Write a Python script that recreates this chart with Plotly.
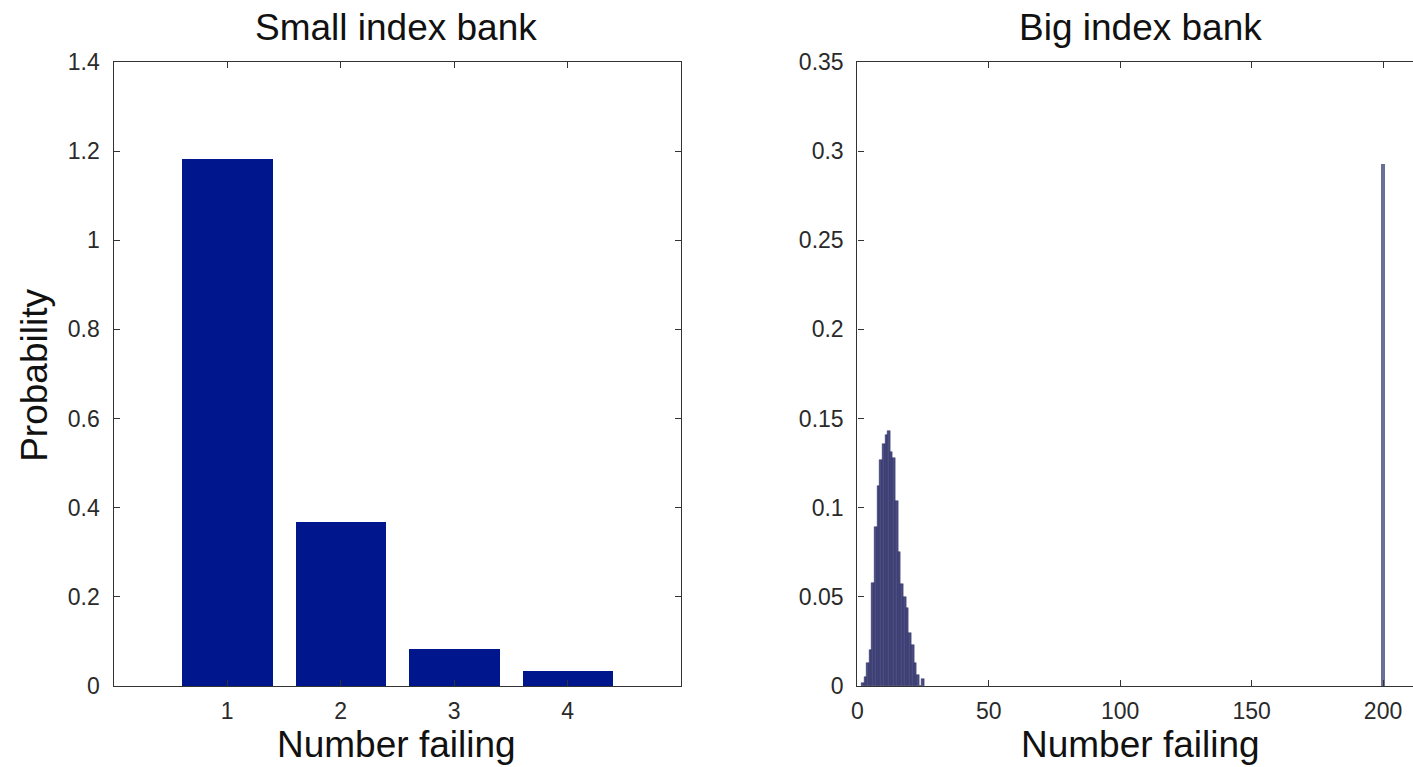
import plotly.graph_objects as go

# ---- data ----
small_x = [1, 2, 3, 4]
small_p = [1.183, 0.368, 0.083, 0.034]

big_x = [2, 3, 4, 5, 6, 7, 8, 9, 10, 11, 12, 13, 14, 15, 16, 17, 18, 19, 20, 21, 22, 23, 24, 25]
big_p = [0.002, 0.005, 0.013, 0.020, 0.058, 0.089, 0.112, 0.127, 0.136, 0.141, 0.143, 0.131,
         0.128, 0.104, 0.075, 0.057, 0.050, 0.044, 0.030, 0.023, 0.013, 0.006, 0.0, 0.004]
spike_x = [200]
spike_p = [0.293]

small_ticks = [1, 2, 3, 4]
small_yticks = [0, 0.2, 0.4, 0.6, 0.8, 1.0, 1.2, 1.4]
small_ylabels = ["0", "0.2", "0.4", "0.6", "0.8", "1", "1.2", "1.4"]
big_xticks = [0, 50, 100, 150, 200]
big_yticks = [0, 0.05, 0.1, 0.15, 0.2, 0.25, 0.3, 0.35]
big_ylabels = ["0", "0.05", "0.1", "0.15", "0.2", "0.25", "0.3", "0.35"]

W, H = 1413, 767
FONT = "Liberation Sans, Arial, Helvetica, sans-serif"
AX = "#333333"

fig = go.Figure()
fig.add_trace(go.Bar(x=small_x, y=small_p, width=0.8, marker_color="#00168c",
                     marker_line_width=0, xaxis="x", yaxis="y", showlegend=False))
fig.add_trace(go.Bar(x=big_x, y=big_p, width=1.0, marker_color="rgba(35,38,100,0.82)",
                     marker_line_color="#1a1c50", marker_line_width=0.4,
                     xaxis="x2", yaxis="y2", showlegend=False))
fig.add_trace(go.Bar(x=spike_x, y=spike_p, width=1.5, marker_color="rgba(60,64,115,0.75)",
                     marker_line_width=0, xaxis="x2", yaxis="y2", showlegend=False))

def px_x(p):
    return p / W

def py(p):
    # vertical placement, in pixels from top
    return 385 + (p - 385) / 0.966

def px_y(p):
    return 1 - py(p) / H

common_tick = dict(ticks="inside", ticklen=6, tickwidth=1, tickcolor=AX,
                   showgrid=False, zeroline=False, showline=True, linecolor=AX, linewidth=1.3,
                   tickfont=dict(family=FONT, size=23, color="#2a2a2a"))

fig.update_layout(
    width=W, height=H,
    margin=dict(l=0, r=0, t=0, b=0),
    plot_bgcolor="white", paper_bgcolor="white",
    bargap=0,
    xaxis=dict(domain=[px_x(108), px_x(678)], range=[0, 5], tickvals=small_ticks,
               mirror="ticks", anchor="y", ticklabelstandoff=4, **common_tick),
    yaxis=dict(domain=[px_y(686), px_y(62)], range=[0, 1.4], tickvals=small_yticks,
               ticktext=small_ylabels,
               mirror="ticks", anchor="x", ticklabelstandoff=8, **common_tick),
    xaxis2=dict(domain=[px_x(855), 1.0], range=[0, 211.4], tickvals=big_xticks,
                mirror="ticks", anchor="y2", ticklabelstandoff=4, **common_tick),
    yaxis2=dict(domain=[px_y(686), px_y(62)], range=[0, 0.35], tickvals=big_yticks,
                ticktext=big_ylabels,
                mirror=False, anchor="x2", ticklabelstandoff=8, **common_tick),
)

def ann(text, x, y, size, angle=0):
    fig.add_annotation(text=text, x=x / W, y=1 - py(y) / H, xref="paper", yref="paper",
                       showarrow=False, textangle=angle, xanchor="center", yanchor="middle",
                       font=dict(family=FONT, size=size, color="#111111"))

ann("Small index bank", 392, 28, 37)
ann("Big index bank", 1139, 28, 37)
ann("Number failing", 392, 745, 37)
ann("Number failing", 1139, 745, 37)
ann("Probability", 29, 375, 37, angle=-90)

fig.write_html("out.html")
